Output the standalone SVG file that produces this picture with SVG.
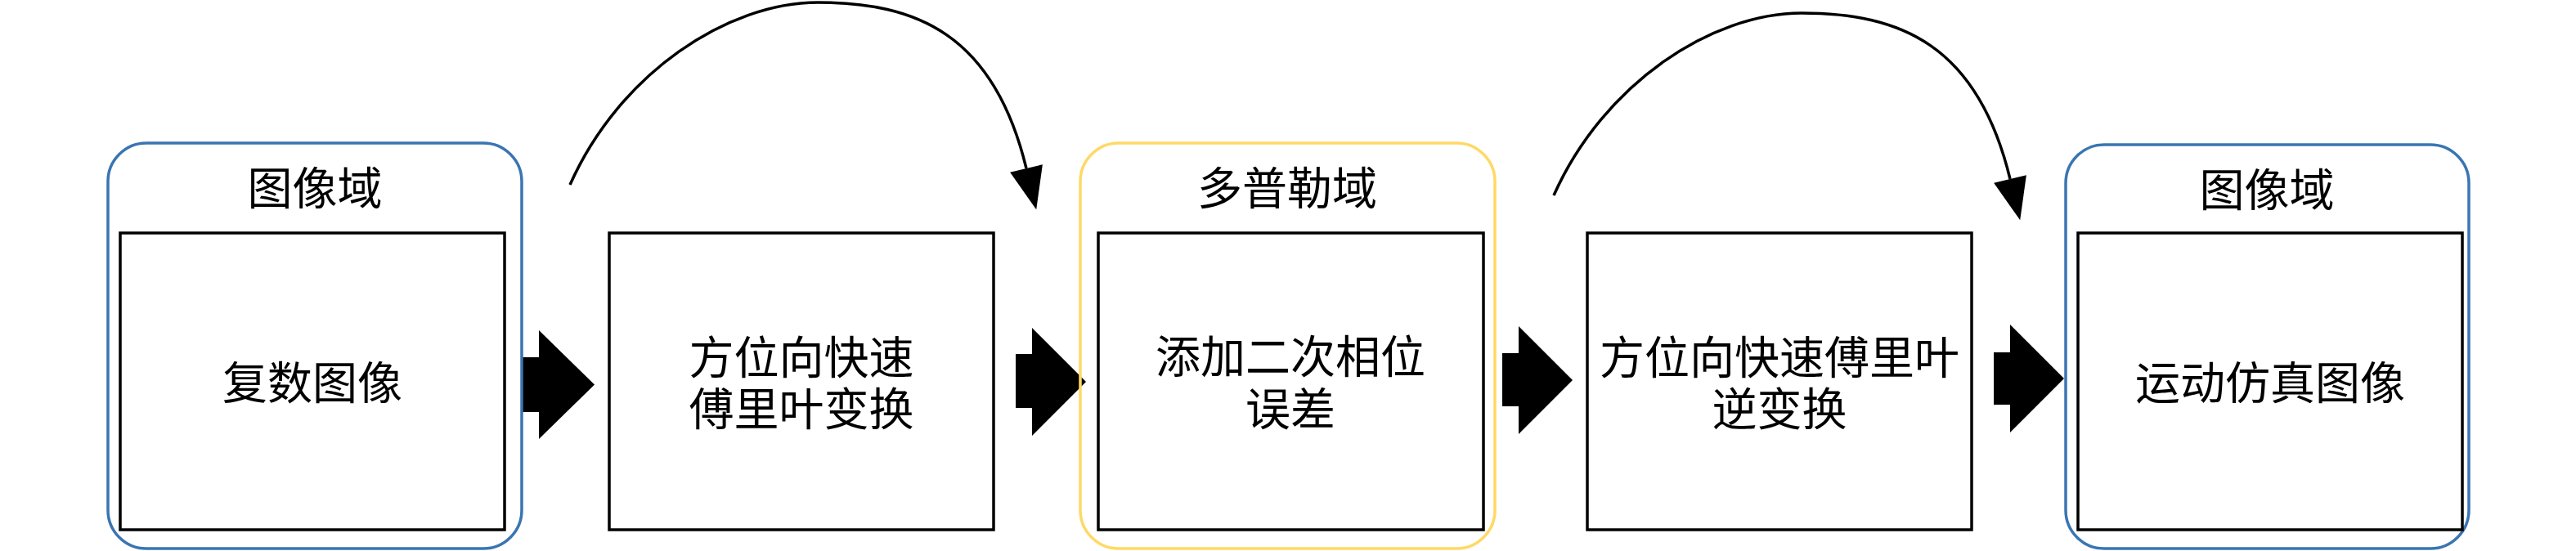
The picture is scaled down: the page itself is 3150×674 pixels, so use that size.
<svg xmlns="http://www.w3.org/2000/svg" width="3150" height="674" viewBox="0 0 3150 674">
<style>
.box{fill:none;stroke:#000;stroke-width:3.5}
.blue{fill:none;stroke:#3A75B2;stroke-width:3.5}
.gold{fill:none;stroke:#FFD966;stroke-width:3.5}
.blk{fill:#000;stroke:none}
.curve{fill:none;stroke:#000;stroke-width:3.5}
text{font-family:'Liberation Serif','Noto Sans CJK SC',serif;font-size:55px;fill:#000;text-anchor:middle}
</style>
<defs>
<marker id="ah" markerUnits="userSpaceOnUse" markerWidth="60" markerHeight="60" refX="0" refY="0" viewBox="-2 -20 44 40" orient="auto" overflow="visible">
<polygon points="0,-15 38,0 0,15" fill="#000"/>
</marker>
</defs>
<rect x="0" y="0" width="3150" height="674" fill="#fff"/>
<g id="connectors">
<polygon class="blk" points="638,437 659,437 659,404 727,470.5 659,537 659,504 638,504"/>
<polygon class="blk" points="1242,433 1262,433 1262,401 1328,467 1262,533 1262,499 1242,499"/>
<polygon class="blk" points="1837,432 1857,432 1857,399 1923,465 1857,531 1857,497 1837,497"/>
<polygon class="blk" points="2438,431 2458,431 2458,397 2524,463 2458,529 2458,495 2438,495"/>
<path class="curve" d="M697,226 C758,89 890,3 1000,3 C1120,3 1215,41 1255,206" marker-end="url(#ah)"/>
<path class="curve" d="M1900,239 C1961,102 2093,16 2203,16 C2323,16 2418,54 2458,219" marker-end="url(#ah)"/>
</g>
<g id="image-domain-1">
<rect class="blue" x="132" y="175" width="506" height="496" rx="47" ry="47"/>
<text x="385" y="250">图像域</text>
</g>
<g id="complex-image">
<rect class="box" x="147" y="285" width="470" height="363"/>
<text x="382" y="488">复数图像</text>
</g>
<g id="azimuth-fft">
<rect class="box" x="745" y="285" width="470" height="363"/>
<text x="980" y="457">方位向快速</text>
<text x="980" y="520">傅里叶变换</text>
</g>
<g id="doppler-domain">
<rect class="gold" x="1321" y="175" width="507" height="496" rx="47" ry="47"/>
<text x="1574" y="250">多普勒域</text>
</g>
<g id="add-phase-error">
<rect class="box" x="1343" y="285" width="471" height="363"/>
<text x="1578" y="456">添加二次相位</text>
<text x="1578" y="520">误差</text>
</g>
<g id="azimuth-ifft">
<rect class="box" x="1941" y="285" width="470" height="363"/>
<text x="2176" y="457">方位向快速傅里叶</text>
<text x="2176" y="520">逆变换</text>
</g>
<g id="image-domain-2">
<rect class="blue" x="2526" y="177" width="493" height="494" rx="47" ry="47"/>
<text x="2772" y="252">图像域</text>
</g>
<g id="motion-sim-image">
<rect class="box" x="2541" y="285" width="470" height="363"/>
<text x="2776" y="488">运动仿真图像</text>
</g>
</svg>
